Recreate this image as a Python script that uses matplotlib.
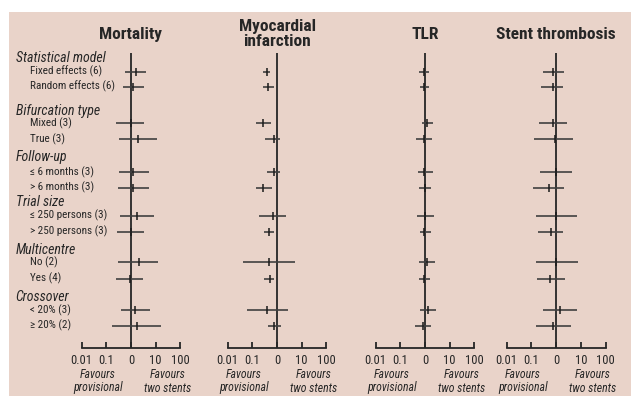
import matplotlib
matplotlib.use("Agg")
import matplotlib.pyplot as plt
from matplotlib.patches import Rectangle

# ---- data (odds ratios) ----
panels = ["Mortality", "Myocardial\ninfarction", "TLR", "Stent thrombosis"]

groups = ["Statistical model", "Bifurcation type", "Follow-up",
          "Trial size", "Multicentre", "Crossover"]
rows = ["Fixed effects (6)", "Random effects (6)",
        "Mixed (3)", "True (3)",
        "\u2264 6 months (3)", "> 6 months (3)",
        "\u2264 250 persons (3)", "> 250 persons (3)",
        "No (2)", "Yes (4)",
        "< 20% (3)", "\u2265 20% (2)"]

mort_lo = [0.57, 0.46, 0.25, 0.32, 0.32, 0.30, 0.36, 0.26, 0.30, 0.24, 0.38, 0.17]
mort_est = [1.55, 1.24, 1.0, 1.92, 1.24, 1.24, 1.75, 1.0, 2.1, 0.89, 1.45, 1.7]
mort_hi = [3.95, 3.27, 3.47, 11.7, 5.4, 5.2, 8.8, 3.47, 12.8, 3.16, 5.9, 17.0]

mi_lo = [0.26, 0.28, 0.14, 0.33, 0.39, 0.147, 0.18, 0.30, 0.043, 0.30, 0.061, 0.43]
mi_est = [0.39, 0.43, 0.26, 0.73, 0.78, 0.28, 0.66, 0.49, 0.49, 0.50, 0.40, 0.78]
mi_hi = [0.53, 0.73, 0.55, 1.28, 1.36, 0.63, 2.24, 0.78, 5.4, 0.78, 2.7, 1.5]

tlr_lo = [0.55, 0.61, 0.76, 0.43, 0.50, 0.59, 0.47, 0.63, 0.57, 0.59, 0.63, 0.40]
tlr_est = [0.91, 0.93, 1.24, 0.91, 0.91, 0.97, 1.0, 0.91, 1.24, 0.93, 1.29, 0.85]
tlr_hi = [1.41, 1.49, 2.1, 1.87, 2.1, 1.8, 2.25, 1.7, 2.55, 1.6, 2.7, 1.7]

st_lo = [0.28, 0.25, 0.21, 0.126, 0.22, 0.117, 0.155, 0.18, 0.155, 0.17, 0.28, 0.146]
st_est = [0.73, 0.71, 0.76, 0.88, 0.97, 0.49, 1.0, 0.61, 1.0, 0.57, 1.45, 0.73]
st_hi = [2.05, 1.87, 2.86, 5.0, 4.4, 2.1, 7.0, 1.87, 7.5, 2.3, 6.9, 3.9]

series = [(mort_lo, mort_est, mort_hi), (mi_lo, mi_est, mi_hi),
          (tlr_lo, tlr_est, tlr_hi), (st_lo, st_est, st_hi)]

tick_vals = [0.01, 0.1, 1, 10, 100]
tick_labels = ["0.01", "0.1", "0", "10", "100"]

# ---- layout (pixels from top-left) ----
W, H = 631, 396
group_y = [58, 111, 157, 202, 250, 297]
row_y = [71.7, 86.7, 123, 139, 172, 187.5, 215.5, 231.7, 262, 278.5, 310, 325.5]
panel_x = [(81.7, 180.3), (227.7, 326.3), (375.7, 474.3), (506.7, 605.7)]
y_top, y_base = 53, 348

plt.rcParams["font.family"] = ["Roboto Condensed", "DejaVu Sans"]
txt = "#262626"
bg = "#e9d3c9"

fig = plt.figure(figsize=(W / 100, H / 100), dpi=100)
fig.patch.set_facecolor("white")
fig.add_artist(Rectangle((9 / W, 0), 1 - 9 / W, (H - 12) / H,
                         transform=fig.transFigure, facecolor=bg,
                         edgecolor="none", zorder=-10))


def fx(px):
    return px / W


def fy(py):
    return 1 - py / H


for i, (name, (lo, est, hi)) in enumerate(zip(panels, series)):
    x0, x1 = panel_x[i]
    ax = fig.add_axes([fx(x0), fy(y_base), fx(x1 - x0), (y_base - y_top) / H])
    ax.patch.set_alpha(0)
    ax.set_xscale("log")
    ax.set_xlim(0.01, 100)
    ax.set_ylim(y_base, y_top)
    for s in ["top", "left", "right"]:
        ax.spines[s].set_visible(False)
    ax.spines["bottom"].set_linewidth(1.3)
    ax.spines["bottom"].set_color(txt)
    ax.set_yticks([])
    ax.set_xticks(tick_vals)
    ax.set_xticklabels(tick_labels)
    ax.minorticks_off()
    ax.tick_params(axis="x", direction="in", length=4, width=1.3, color=txt,
                   labelsize=9, labelcolor=txt, pad=4.5)
    ax.axvline(1, color=txt, lw=1.3, zorder=1)
    for j in range(len(rows)):
        ax.plot([lo[j], hi[j]], [row_y[j], row_y[j]], color="#404040",
                lw=1.2, solid_capstyle="butt", zorder=2)
        ax.plot(est[j], row_y[j], marker="|", ms=6, mew=1.1,
                color="#1a1a1a", zorder=3)
    ax.text(1, 34.5, name, ha="center", va="center", fontsize=12.5,
            fontweight="bold", color=txt, linespacing=1.0, clip_on=False)
    for xv, words in [(0.045, ("Favours", "provisional")),
                      (30, ("Favours", "two stents"))]:
        ax.text(xv, 375, words[0], ha="center", va="center", fontsize=8.5,
                style="italic", color=txt, clip_on=False)
        ax.text(xv, 388, words[1], ha="center", va="center", fontsize=8.5,
                style="italic", color=txt, clip_on=False)

# left labels
for g, gy in zip(groups, group_y):
    fig.text(fx(15.5), fy(gy), g, ha="left", va="center", fontsize=10,
             style="italic", color=txt)
for r, ry in zip(rows, row_y):
    fig.text(fx(30), fy(ry), r, ha="left", va="center", fontsize=8,
             color=txt)

fig.savefig("out.png", dpi=100, facecolor=fig.get_facecolor())
